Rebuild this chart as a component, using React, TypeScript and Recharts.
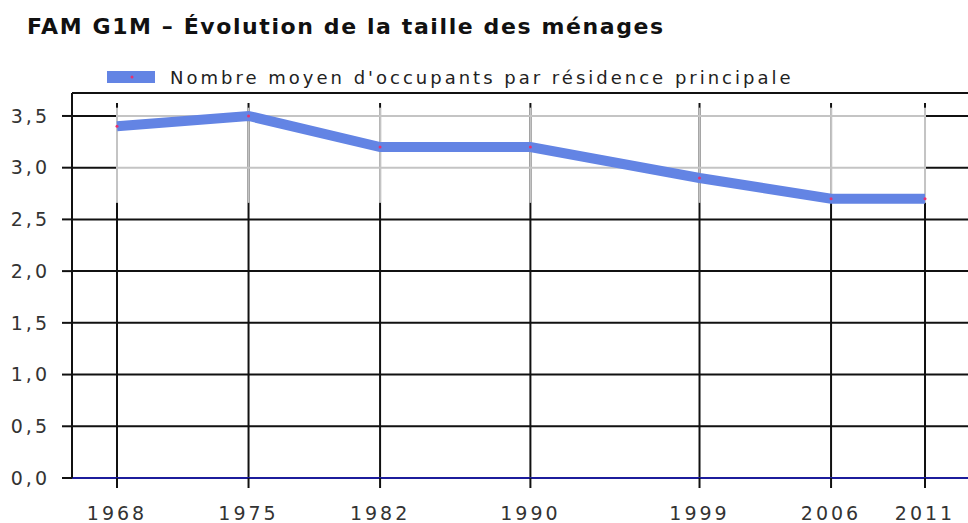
import { LineChart, Line, XAxis, YAxis, CartesianGrid, ReferenceArea, ReferenceLine } from 'recharts';

const years = [1968, 1975, 1982, 1990, 1999, 2006, 2011];
const occupants = [3.4, 3.5, 3.2, 3.2, 2.9, 2.7, 2.7];
const yTicks = [0, 0.5, 1, 1.5, 2, 2.5, 3, 3.5];
const grayYTicks = [3, 3.5];

const title = 'FAM G1M – Évolution de la taille des ménages';
const seriesName = "Nombre moyen d'occupants par résidence principale";

const data = years.map((year, i) => ({ year, value: occupants[i] }));

const FONT = '"DejaVu Sans", Verdana, sans-serif';
const LINE_BLUE = '#6384e4';
const DOT_RED = '#e8306e';

const fmt = (v: number) => v.toFixed(1).replace('.', ',');

function RedDot(props: { cx?: number; cy?: number }) {
  const { cx, cy } = props;
  if (cx == null || cy == null) return null;
  return <circle cx={cx} cy={cy} r={1.5} fill={DOT_RED} />;
}

function ChartLegend() {
  return (
    <div
      style={{
        position: 'absolute',
        left: 107,
        top: 65,
        height: 24,
        display: 'flex',
        alignItems: 'center',
        fontFamily: FONT,
        whiteSpace: 'nowrap',
      }}
    >
      <svg width={48} height={12} style={{ display: 'block' }}>
        <rect x={0} y={0} width={48} height={12} fill={LINE_BLUE} />
        <circle cx={25} cy={6} r={1.5} fill={DOT_RED} />
      </svg>
      <span style={{ marginLeft: 15, fontSize: 18, letterSpacing: 3, color: '#222' }}>{seriesName}</span>
    </div>
  );
}

export default function App() {
  const xMin = years[0];
  const xMax = years[years.length - 1];
  return (
    <div style={{ position: 'absolute', left: 0, top: 0, width: 968, height: 523, background: '#fff', overflow: 'hidden' }}>
      <div
        style={{
          position: 'absolute',
          left: 27,
          top: 14,
          fontFamily: FONT,
          fontWeight: 'bold',
          fontSize: 22,
          letterSpacing: 1.6,
          color: '#111',
          whiteSpace: 'nowrap',
        }}
      >
        {title}
      </div>
      <ChartLegend />
      <LineChart width={968} height={523} data={data} margin={{ top: 93, right: 0, bottom: 0, left: 0 }}>
        <CartesianGrid horizontal vertical={false} stroke="#111" strokeWidth={2} />
        {years.map((yr) => (
          <ReferenceLine
            key={'v' + yr}
            segment={[
              { x: yr, y: 0 },
              { x: yr, y: 3.626 },
            ]}
            stroke="#111"
            strokeWidth={2}
            ifOverflow="visible"
          />
        ))}
        <ReferenceArea x1={xMin} x2={xMax} y1={2.66} y2={3.58} fill="#fff" fillOpacity={1} stroke="none" ifOverflow="visible" />
        {grayYTicks.map((v) => (
          <ReferenceLine
            key={'gh' + v}
            segment={[
              { x: xMin, y: v },
              { x: xMax, y: v },
            ]}
            stroke="#c4c4c4"
            strokeWidth={2}
          />
        ))}
        {years.map((yr) => (
          <ReferenceLine
            key={'gv' + yr}
            segment={[
              { x: yr, y: 2.66 },
              { x: yr, y: 3.58 },
            ]}
            stroke="#c4c4c4"
            strokeWidth={2}
          />
        ))}
        <XAxis
          dataKey="year"
          type="number"
          domain={[1965.605, 2013.288]}
          allowDataOverflow
          ticks={years}
          height={45}
          tickSize={10}
          tickMargin={19}
          axisLine={{ stroke: '#1c1c9c', strokeWidth: 2 }}
          tickLine={{ stroke: '#111', strokeWidth: 2 }}
          tick={{ fontSize: 19, fill: '#333', fontFamily: FONT, letterSpacing: 3 }}
          interval={0}
        />
        <YAxis
          type="number"
          domain={[0, 3.722]}
          allowDataOverflow
          ticks={yTicks}
          width={72}
          tickSize={10}
          tickMargin={12}
          tickFormatter={fmt}
          axisLine={{ stroke: '#111', strokeWidth: 2 }}
          tickLine={{ stroke: '#111', strokeWidth: 2 }}
          tick={{ fontSize: 19, fill: '#333', fontFamily: FONT, letterSpacing: 3 }}
          interval={0}
        />
        <Line
          type="linear"
          dataKey="value"
          name={seriesName}
          stroke={LINE_BLUE}
          strokeWidth={10}
          dot={<RedDot />}
          activeDot={false}
          isAnimationActive={false}
        />
      </LineChart>
    </div>
  );
}
